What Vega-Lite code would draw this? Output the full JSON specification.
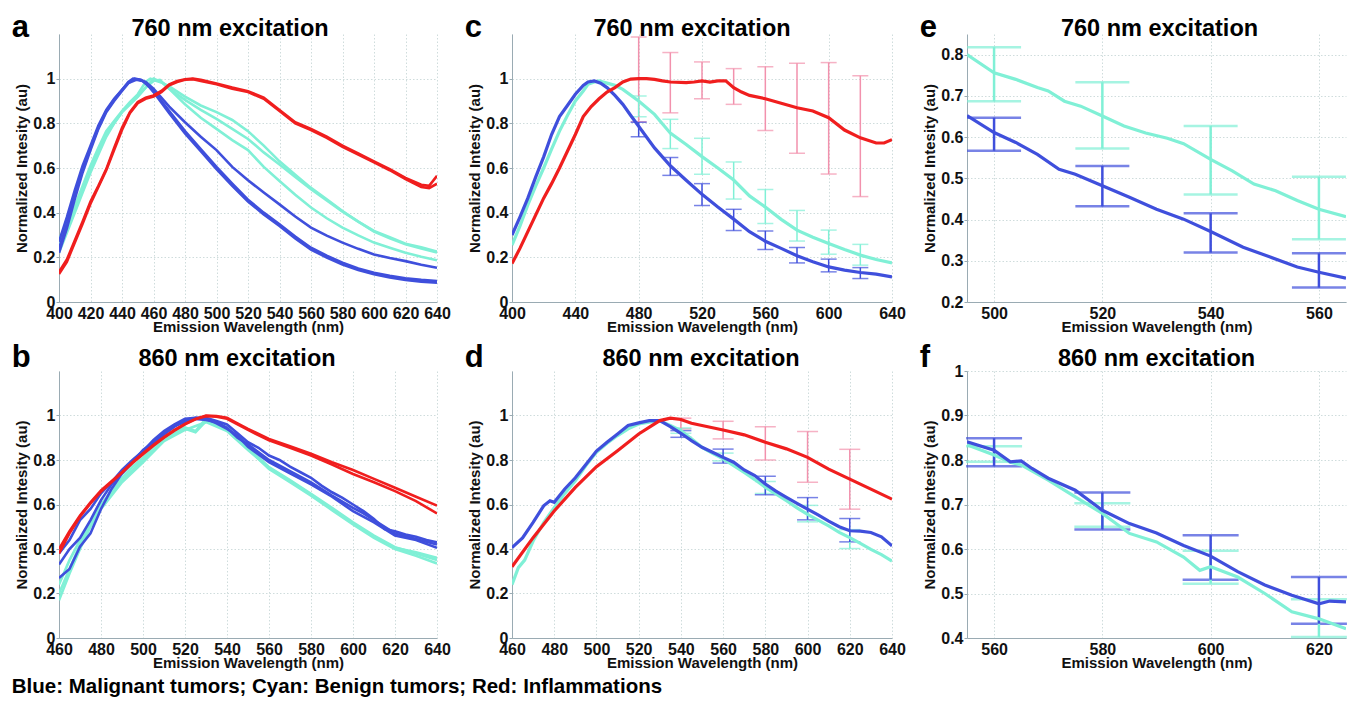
{
"$schema": "https://vega.github.io/schema/vega-lite/v6.json",
"padding": {"left": 11, "top": 12, "right": 0, "bottom": 0},
"config": {
 "view": {"stroke": null},
 "axis": {"labelFont": "Liberation Sans", "labelFontSize": 16, "labelFontWeight": "bold", "labelColor": "#111", "titleFont": "Liberation Sans", "titleFontSize": 15, "titleFontWeight": "bold", "titleColor": "#111", "domainColor": "#9aabb3", "grid": true, "gridColor": "#cfdcdc", "gridDash": [1.5, 2], "ticks": false, "labelFlush": false, "labelOverlap": false, "labelPadding": 3},
 "axisX": {"titlePadding": -2},
 "axisY": {"titlePadding": 3, "labelPadding": 1, "ticks": true, "tickSize": 3, "tickColor": "#9aabb3"},
 "title": {"font": "Liberation Sans", "fontSize": 23.5, "fontWeight": "bold", "color": "#000", "baseline": "alphabetic"}
},
"title": {"text": "Blue: Malignant tumors; Cyan: Benign tumors; Red: Inflammations", "orient": "bottom", "anchor": "start", "fontSize": 20.5, "baseline": "top", "offset": 7},
"columns": 3,
"spacing": {"row": 7, "column": 13},
"datasets": {
"a": [
{"s":"C1","g":"Cyan","w":400,"v":0.28},{"s":"C1","g":"Cyan","w":405,"v":0.35},{"s":"C1","g":"Cyan","w":410,"v":0.43},{"s":"C1","g":"Cyan","w":415,"v":0.52},{"s":"C1","g":"Cyan","w":420,"v":0.61},{"s":"C1","g":"Cyan","w":425,"v":0.69},{"s":"C1","g":"Cyan","w":430,"v":0.765},{"s":"C1","g":"Cyan","w":435,"v":0.81},{"s":"C1","g":"Cyan","w":440,"v":0.855},{"s":"C1","g":"Cyan","w":445,"v":0.895},{"s":"C1","g":"Cyan","w":450,"v":0.93},{"s":"C1","g":"Cyan","w":455,"v":0.985},{"s":"C1","g":"Cyan","w":458,"v":1.0},{"s":"C1","g":"Cyan","w":462,"v":0.99},{"s":"C1","g":"Cyan","w":466,"v":0.98},{"s":"C1","g":"Cyan","w":470,"v":0.965},{"s":"C1","g":"Cyan","w":480,"v":0.92},{"s":"C1","g":"Cyan","w":490,"v":0.88},{"s":"C1","g":"Cyan","w":500,"v":0.85},{"s":"C1","g":"Cyan","w":510,"v":0.815},{"s":"C1","g":"Cyan","w":520,"v":0.765},{"s":"C1","g":"Cyan","w":530,"v":0.7},{"s":"C1","g":"Cyan","w":540,"v":0.63},{"s":"C1","g":"Cyan","w":550,"v":0.57},{"s":"C1","g":"Cyan","w":560,"v":0.511},{"s":"C1","g":"Cyan","w":570,"v":0.46},{"s":"C1","g":"Cyan","w":580,"v":0.407},{"s":"C1","g":"Cyan","w":590,"v":0.36},{"s":"C1","g":"Cyan","w":600,"v":0.318},{"s":"C1","g":"Cyan","w":610,"v":0.29},{"s":"C1","g":"Cyan","w":620,"v":0.261},{"s":"C1","g":"Cyan","w":630,"v":0.245},{"s":"C1","g":"Cyan","w":640,"v":0.226},
{"s":"C2","g":"Cyan","w":400,"v":0.25},{"s":"C2","g":"Cyan","w":405,"v":0.33},{"s":"C2","g":"Cyan","w":410,"v":0.42},{"s":"C2","g":"Cyan","w":415,"v":0.505},{"s":"C2","g":"Cyan","w":420,"v":0.59},{"s":"C2","g":"Cyan","w":425,"v":0.67},{"s":"C2","g":"Cyan","w":430,"v":0.75},{"s":"C2","g":"Cyan","w":435,"v":0.8},{"s":"C2","g":"Cyan","w":440,"v":0.85},{"s":"C2","g":"Cyan","w":445,"v":0.885},{"s":"C2","g":"Cyan","w":450,"v":0.92},{"s":"C2","g":"Cyan","w":455,"v":0.96},{"s":"C2","g":"Cyan","w":460,"v":1.0},{"s":"C2","g":"Cyan","w":465,"v":0.985},{"s":"C2","g":"Cyan","w":470,"v":0.955},{"s":"C2","g":"Cyan","w":480,"v":0.905},{"s":"C2","g":"Cyan","w":490,"v":0.86},{"s":"C2","g":"Cyan","w":500,"v":0.82},{"s":"C2","g":"Cyan","w":510,"v":0.775},{"s":"C2","g":"Cyan","w":520,"v":0.73},{"s":"C2","g":"Cyan","w":530,"v":0.67},{"s":"C2","g":"Cyan","w":540,"v":0.616},{"s":"C2","g":"Cyan","w":550,"v":0.56},{"s":"C2","g":"Cyan","w":560,"v":0.505},{"s":"C2","g":"Cyan","w":570,"v":0.455},{"s":"C2","g":"Cyan","w":580,"v":0.405},{"s":"C2","g":"Cyan","w":590,"v":0.36},{"s":"C2","g":"Cyan","w":600,"v":0.315},{"s":"C2","g":"Cyan","w":610,"v":0.285},{"s":"C2","g":"Cyan","w":620,"v":0.258},{"s":"C2","g":"Cyan","w":630,"v":0.24},{"s":"C2","g":"Cyan","w":640,"v":0.222},
{"s":"C3","g":"Cyan","w":400,"v":0.22},{"s":"C3","g":"Cyan","w":405,"v":0.31},{"s":"C3","g":"Cyan","w":410,"v":0.4},{"s":"C3","g":"Cyan","w":415,"v":0.49},{"s":"C3","g":"Cyan","w":420,"v":0.58},{"s":"C3","g":"Cyan","w":425,"v":0.66},{"s":"C3","g":"Cyan","w":430,"v":0.74},{"s":"C3","g":"Cyan","w":435,"v":0.8},{"s":"C3","g":"Cyan","w":440,"v":0.85},{"s":"C3","g":"Cyan","w":445,"v":0.885},{"s":"C3","g":"Cyan","w":450,"v":0.92},{"s":"C3","g":"Cyan","w":455,"v":0.96},{"s":"C3","g":"Cyan","w":460,"v":0.99},{"s":"C3","g":"Cyan","w":464,"v":0.995},{"s":"C3","g":"Cyan","w":470,"v":0.955},{"s":"C3","g":"Cyan","w":480,"v":0.885},{"s":"C3","g":"Cyan","w":490,"v":0.825},{"s":"C3","g":"Cyan","w":500,"v":0.775},{"s":"C3","g":"Cyan","w":510,"v":0.725},{"s":"C3","g":"Cyan","w":520,"v":0.68},{"s":"C3","g":"Cyan","w":530,"v":0.605},{"s":"C3","g":"Cyan","w":540,"v":0.542},{"s":"C3","g":"Cyan","w":550,"v":0.48},{"s":"C3","g":"Cyan","w":560,"v":0.423},{"s":"C3","g":"Cyan","w":570,"v":0.375},{"s":"C3","g":"Cyan","w":580,"v":0.333},{"s":"C3","g":"Cyan","w":590,"v":0.298},{"s":"C3","g":"Cyan","w":600,"v":0.266},{"s":"C3","g":"Cyan","w":610,"v":0.243},{"s":"C3","g":"Cyan","w":620,"v":0.221},{"s":"C3","g":"Cyan","w":630,"v":0.203},{"s":"C3","g":"Cyan","w":640,"v":0.187},
{"s":"B1","g":"Blue","w":400,"v":0.27},{"s":"B1","g":"Blue","w":405,"v":0.38},{"s":"B1","g":"Blue","w":410,"v":0.5},{"s":"B1","g":"Blue","w":415,"v":0.61},{"s":"B1","g":"Blue","w":420,"v":0.7},{"s":"B1","g":"Blue","w":425,"v":0.79},{"s":"B1","g":"Blue","w":430,"v":0.86},{"s":"B1","g":"Blue","w":435,"v":0.91},{"s":"B1","g":"Blue","w":440,"v":0.95},{"s":"B1","g":"Blue","w":444,"v":0.985},{"s":"B1","g":"Blue","w":447,"v":1.0},{"s":"B1","g":"Blue","w":451,"v":0.995},{"s":"B1","g":"Blue","w":455,"v":0.985},{"s":"B1","g":"Blue","w":460,"v":0.955},{"s":"B1","g":"Blue","w":470,"v":0.875},{"s":"B1","g":"Blue","w":480,"v":0.805},{"s":"B1","g":"Blue","w":490,"v":0.74},{"s":"B1","g":"Blue","w":500,"v":0.68},{"s":"B1","g":"Blue","w":510,"v":0.605},{"s":"B1","g":"Blue","w":520,"v":0.545},{"s":"B1","g":"Blue","w":530,"v":0.49},{"s":"B1","g":"Blue","w":540,"v":0.437},{"s":"B1","g":"Blue","w":550,"v":0.383},{"s":"B1","g":"Blue","w":560,"v":0.333},{"s":"B1","g":"Blue","w":570,"v":0.297},{"s":"B1","g":"Blue","w":580,"v":0.266},{"s":"B1","g":"Blue","w":590,"v":0.238},{"s":"B1","g":"Blue","w":600,"v":0.213},{"s":"B1","g":"Blue","w":610,"v":0.197},{"s":"B1","g":"Blue","w":620,"v":0.183},{"s":"B1","g":"Blue","w":630,"v":0.167},{"s":"B1","g":"Blue","w":640,"v":0.153},
{"s":"B2","g":"Blue","w":400,"v":0.24},{"s":"B2","g":"Blue","w":405,"v":0.35},{"s":"B2","g":"Blue","w":410,"v":0.48},{"s":"B2","g":"Blue","w":415,"v":0.59},{"s":"B2","g":"Blue","w":420,"v":0.69},{"s":"B2","g":"Blue","w":425,"v":0.78},{"s":"B2","g":"Blue","w":430,"v":0.855},{"s":"B2","g":"Blue","w":435,"v":0.905},{"s":"B2","g":"Blue","w":440,"v":0.95},{"s":"B2","g":"Blue","w":444,"v":0.98},{"s":"B2","g":"Blue","w":448,"v":1.0},{"s":"B2","g":"Blue","w":452,"v":0.995},{"s":"B2","g":"Blue","w":456,"v":0.975},{"s":"B2","g":"Blue","w":460,"v":0.945},{"s":"B2","g":"Blue","w":470,"v":0.855},{"s":"B2","g":"Blue","w":480,"v":0.765},{"s":"B2","g":"Blue","w":490,"v":0.685},{"s":"B2","g":"Blue","w":500,"v":0.605},{"s":"B2","g":"Blue","w":510,"v":0.53},{"s":"B2","g":"Blue","w":520,"v":0.458},{"s":"B2","g":"Blue","w":530,"v":0.4},{"s":"B2","g":"Blue","w":540,"v":0.348},{"s":"B2","g":"Blue","w":550,"v":0.293},{"s":"B2","g":"Blue","w":560,"v":0.243},{"s":"B2","g":"Blue","w":570,"v":0.207},{"s":"B2","g":"Blue","w":580,"v":0.176},{"s":"B2","g":"Blue","w":590,"v":0.15},{"s":"B2","g":"Blue","w":600,"v":0.131},{"s":"B2","g":"Blue","w":610,"v":0.117},{"s":"B2","g":"Blue","w":620,"v":0.106},{"s":"B2","g":"Blue","w":630,"v":0.099},{"s":"B2","g":"Blue","w":640,"v":0.094},
{"s":"B3","g":"Blue","w":400,"v":0.22},{"s":"B3","g":"Blue","w":405,"v":0.33},{"s":"B3","g":"Blue","w":410,"v":0.46},{"s":"B3","g":"Blue","w":415,"v":0.58},{"s":"B3","g":"Blue","w":420,"v":0.68},{"s":"B3","g":"Blue","w":425,"v":0.775},{"s":"B3","g":"Blue","w":430,"v":0.85},{"s":"B3","g":"Blue","w":435,"v":0.9},{"s":"B3","g":"Blue","w":440,"v":0.945},{"s":"B3","g":"Blue","w":444,"v":0.98},{"s":"B3","g":"Blue","w":449,"v":0.995},{"s":"B3","g":"Blue","w":453,"v":0.99},{"s":"B3","g":"Blue","w":457,"v":0.965},{"s":"B3","g":"Blue","w":460,"v":0.94},{"s":"B3","g":"Blue","w":470,"v":0.845},{"s":"B3","g":"Blue","w":480,"v":0.755},{"s":"B3","g":"Blue","w":490,"v":0.675},{"s":"B3","g":"Blue","w":500,"v":0.595},{"s":"B3","g":"Blue","w":510,"v":0.52},{"s":"B3","g":"Blue","w":520,"v":0.45},{"s":"B3","g":"Blue","w":530,"v":0.392},{"s":"B3","g":"Blue","w":540,"v":0.34},{"s":"B3","g":"Blue","w":550,"v":0.285},{"s":"B3","g":"Blue","w":560,"v":0.235},{"s":"B3","g":"Blue","w":570,"v":0.199},{"s":"B3","g":"Blue","w":580,"v":0.168},{"s":"B3","g":"Blue","w":590,"v":0.143},{"s":"B3","g":"Blue","w":600,"v":0.124},{"s":"B3","g":"Blue","w":610,"v":0.11},{"s":"B3","g":"Blue","w":620,"v":0.099},{"s":"B3","g":"Blue","w":630,"v":0.091},{"s":"B3","g":"Blue","w":640,"v":0.086},
{"s":"R1","g":"Red","w":400,"v":0.135},{"s":"R1","g":"Red","w":405,"v":0.19},{"s":"R1","g":"Red","w":410,"v":0.275},{"s":"R1","g":"Red","w":415,"v":0.36},{"s":"R1","g":"Red","w":420,"v":0.45},{"s":"R1","g":"Red","w":425,"v":0.52},{"s":"R1","g":"Red","w":430,"v":0.595},{"s":"R1","g":"Red","w":435,"v":0.69},{"s":"R1","g":"Red","w":440,"v":0.78},{"s":"R1","g":"Red","w":445,"v":0.85},{"s":"R1","g":"Red","w":450,"v":0.895},{"s":"R1","g":"Red","w":455,"v":0.915},{"s":"R1","g":"Red","w":460,"v":0.925},{"s":"R1","g":"Red","w":465,"v":0.945},{"s":"R1","g":"Red","w":470,"v":0.975},{"s":"R1","g":"Red","w":475,"v":0.99},{"s":"R1","g":"Red","w":480,"v":0.997},{"s":"R1","g":"Red","w":485,"v":1.0},{"s":"R1","g":"Red","w":490,"v":0.995},{"s":"R1","g":"Red","w":500,"v":0.978},{"s":"R1","g":"Red","w":510,"v":0.96},{"s":"R1","g":"Red","w":520,"v":0.944},{"s":"R1","g":"Red","w":530,"v":0.915},{"s":"R1","g":"Red","w":540,"v":0.86},{"s":"R1","g":"Red","w":550,"v":0.805},{"s":"R1","g":"Red","w":560,"v":0.775},{"s":"R1","g":"Red","w":570,"v":0.74},{"s":"R1","g":"Red","w":580,"v":0.7},{"s":"R1","g":"Red","w":590,"v":0.665},{"s":"R1","g":"Red","w":600,"v":0.63},{"s":"R1","g":"Red","w":610,"v":0.595},{"s":"R1","g":"Red","w":620,"v":0.556},{"s":"R1","g":"Red","w":630,"v":0.525},{"s":"R1","g":"Red","w":635,"v":0.52},{"s":"R1","g":"Red","w":640,"v":0.565},
{"s":"R2","g":"Red","w":400,"v":0.125},{"s":"R2","g":"Red","w":405,"v":0.18},{"s":"R2","g":"Red","w":410,"v":0.265},{"s":"R2","g":"Red","w":415,"v":0.35},{"s":"R2","g":"Red","w":420,"v":0.44},{"s":"R2","g":"Red","w":425,"v":0.515},{"s":"R2","g":"Red","w":430,"v":0.59},{"s":"R2","g":"Red","w":435,"v":0.68},{"s":"R2","g":"Red","w":440,"v":0.77},{"s":"R2","g":"Red","w":445,"v":0.845},{"s":"R2","g":"Red","w":450,"v":0.89},{"s":"R2","g":"Red","w":455,"v":0.91},{"s":"R2","g":"Red","w":460,"v":0.92},{"s":"R2","g":"Red","w":465,"v":0.94},{"s":"R2","g":"Red","w":470,"v":0.97},{"s":"R2","g":"Red","w":475,"v":0.985},{"s":"R2","g":"Red","w":480,"v":0.995},{"s":"R2","g":"Red","w":485,"v":0.998},{"s":"R2","g":"Red","w":490,"v":0.99},{"s":"R2","g":"Red","w":500,"v":0.975},{"s":"R2","g":"Red","w":510,"v":0.955},{"s":"R2","g":"Red","w":520,"v":0.94},{"s":"R2","g":"Red","w":530,"v":0.91},{"s":"R2","g":"Red","w":540,"v":0.855},{"s":"R2","g":"Red","w":550,"v":0.8},{"s":"R2","g":"Red","w":560,"v":0.77},{"s":"R2","g":"Red","w":570,"v":0.735},{"s":"R2","g":"Red","w":580,"v":0.695},{"s":"R2","g":"Red","w":590,"v":0.66},{"s":"R2","g":"Red","w":600,"v":0.625},{"s":"R2","g":"Red","w":610,"v":0.59},{"s":"R2","g":"Red","w":620,"v":0.55},{"s":"R2","g":"Red","w":630,"v":0.515},{"s":"R2","g":"Red","w":635,"v":0.51},{"s":"R2","g":"Red","w":640,"v":0.53}
],
"b": [
{"s":"C1","g":"Cyan","w":460,"v":0.24},{"s":"C1","g":"Cyan","w":465,"v":0.35},{"s":"C1","g":"Cyan","w":470,"v":0.44},{"s":"C1","g":"Cyan","w":475,"v":0.52},{"s":"C1","g":"Cyan","w":480,"v":0.6},{"s":"C1","g":"Cyan","w":485,"v":0.66},{"s":"C1","g":"Cyan","w":490,"v":0.72},{"s":"C1","g":"Cyan","w":495,"v":0.77},{"s":"C1","g":"Cyan","w":500,"v":0.81},{"s":"C1","g":"Cyan","w":505,"v":0.86},{"s":"C1","g":"Cyan","w":510,"v":0.9},{"s":"C1","g":"Cyan","w":515,"v":0.925},{"s":"C1","g":"Cyan","w":520,"v":0.946},{"s":"C1","g":"Cyan","w":525,"v":0.93},{"s":"C1","g":"Cyan","w":530,"v":0.985},{"s":"C1","g":"Cyan","w":535,"v":0.97},{"s":"C1","g":"Cyan","w":540,"v":0.946},{"s":"C1","g":"Cyan","w":545,"v":0.9},{"s":"C1","g":"Cyan","w":550,"v":0.857},{"s":"C1","g":"Cyan","w":560,"v":0.768},{"s":"C1","g":"Cyan","w":570,"v":0.71},{"s":"C1","g":"Cyan","w":580,"v":0.648},{"s":"C1","g":"Cyan","w":590,"v":0.585},{"s":"C1","g":"Cyan","w":600,"v":0.52},{"s":"C1","g":"Cyan","w":610,"v":0.46},{"s":"C1","g":"Cyan","w":620,"v":0.408},{"s":"C1","g":"Cyan","w":630,"v":0.38},{"s":"C1","g":"Cyan","w":640,"v":0.35},
{"s":"C2","g":"Cyan","w":460,"v":0.2},{"s":"C2","g":"Cyan","w":465,"v":0.31},{"s":"C2","g":"Cyan","w":470,"v":0.42},{"s":"C2","g":"Cyan","w":475,"v":0.51},{"s":"C2","g":"Cyan","w":480,"v":0.59},{"s":"C2","g":"Cyan","w":490,"v":0.71},{"s":"C2","g":"Cyan","w":500,"v":0.8},{"s":"C2","g":"Cyan","w":510,"v":0.89},{"s":"C2","g":"Cyan","w":520,"v":0.94},{"s":"C2","g":"Cyan","w":525,"v":0.925},{"s":"C2","g":"Cyan","w":530,"v":0.975},{"s":"C2","g":"Cyan","w":540,"v":0.94},{"s":"C2","g":"Cyan","w":550,"v":0.85},{"s":"C2","g":"Cyan","w":560,"v":0.76},{"s":"C2","g":"Cyan","w":570,"v":0.7},{"s":"C2","g":"Cyan","w":580,"v":0.64},{"s":"C2","g":"Cyan","w":590,"v":0.575},{"s":"C2","g":"Cyan","w":600,"v":0.51},{"s":"C2","g":"Cyan","w":610,"v":0.45},{"s":"C2","g":"Cyan","w":620,"v":0.4},{"s":"C2","g":"Cyan","w":630,"v":0.37},{"s":"C2","g":"Cyan","w":640,"v":0.335},
{"s":"C3","g":"Cyan","w":460,"v":0.17},{"s":"C3","g":"Cyan","w":465,"v":0.29},{"s":"C3","g":"Cyan","w":470,"v":0.4},{"s":"C3","g":"Cyan","w":475,"v":0.5},{"s":"C3","g":"Cyan","w":480,"v":0.58},{"s":"C3","g":"Cyan","w":490,"v":0.7},{"s":"C3","g":"Cyan","w":500,"v":0.79},{"s":"C3","g":"Cyan","w":510,"v":0.885},{"s":"C3","g":"Cyan","w":520,"v":0.935},{"s":"C3","g":"Cyan","w":530,"v":0.97},{"s":"C3","g":"Cyan","w":540,"v":0.93},{"s":"C3","g":"Cyan","w":550,"v":0.845},{"s":"C3","g":"Cyan","w":560,"v":0.765},{"s":"C3","g":"Cyan","w":570,"v":0.705},{"s":"C3","g":"Cyan","w":580,"v":0.645},{"s":"C3","g":"Cyan","w":590,"v":0.58},{"s":"C3","g":"Cyan","w":600,"v":0.515},{"s":"C3","g":"Cyan","w":610,"v":0.455},{"s":"C3","g":"Cyan","w":620,"v":0.405},{"s":"C3","g":"Cyan","w":630,"v":0.385},{"s":"C3","g":"Cyan","w":640,"v":0.36},
{"s":"B1","g":"Blue","w":460,"v":0.38},{"s":"B1","g":"Blue","w":465,"v":0.44},{"s":"B1","g":"Blue","w":470,"v":0.53},{"s":"B1","g":"Blue","w":475,"v":0.58},{"s":"B1","g":"Blue","w":480,"v":0.65},{"s":"B1","g":"Blue","w":485,"v":0.7},{"s":"B1","g":"Blue","w":490,"v":0.755},{"s":"B1","g":"Blue","w":495,"v":0.8},{"s":"B1","g":"Blue","w":500,"v":0.84},{"s":"B1","g":"Blue","w":505,"v":0.89},{"s":"B1","g":"Blue","w":510,"v":0.93},{"s":"B1","g":"Blue","w":515,"v":0.96},{"s":"B1","g":"Blue","w":520,"v":0.985},{"s":"B1","g":"Blue","w":525,"v":0.99},{"s":"B1","g":"Blue","w":530,"v":0.99},{"s":"B1","g":"Blue","w":535,"v":0.975},{"s":"B1","g":"Blue","w":540,"v":0.96},{"s":"B1","g":"Blue","w":545,"v":0.92},{"s":"B1","g":"Blue","w":550,"v":0.88},{"s":"B1","g":"Blue","w":555,"v":0.855},{"s":"B1","g":"Blue","w":560,"v":0.82},{"s":"B1","g":"Blue","w":565,"v":0.8},{"s":"B1","g":"Blue","w":570,"v":0.77},{"s":"B1","g":"Blue","w":575,"v":0.745},{"s":"B1","g":"Blue","w":580,"v":0.72},{"s":"B1","g":"Blue","w":585,"v":0.685},{"s":"B1","g":"Blue","w":590,"v":0.655},{"s":"B1","g":"Blue","w":595,"v":0.63},{"s":"B1","g":"Blue","w":600,"v":0.6},{"s":"B1","g":"Blue","w":605,"v":0.57},{"s":"B1","g":"Blue","w":610,"v":0.535},{"s":"B1","g":"Blue","w":615,"v":0.49},{"s":"B1","g":"Blue","w":620,"v":0.48},{"s":"B1","g":"Blue","w":625,"v":0.465},{"s":"B1","g":"Blue","w":630,"v":0.455},{"s":"B1","g":"Blue","w":635,"v":0.44},{"s":"B1","g":"Blue","w":640,"v":0.43},
{"s":"B2","g":"Blue","w":460,"v":0.33},{"s":"B2","g":"Blue","w":465,"v":0.4},{"s":"B2","g":"Blue","w":470,"v":0.45},{"s":"B2","g":"Blue","w":475,"v":0.53},{"s":"B2","g":"Blue","w":480,"v":0.62},{"s":"B2","g":"Blue","w":485,"v":0.69},{"s":"B2","g":"Blue","w":490,"v":0.74},{"s":"B2","g":"Blue","w":495,"v":0.79},{"s":"B2","g":"Blue","w":500,"v":0.845},{"s":"B2","g":"Blue","w":505,"v":0.88},{"s":"B2","g":"Blue","w":510,"v":0.915},{"s":"B2","g":"Blue","w":515,"v":0.95},{"s":"B2","g":"Blue","w":520,"v":0.975},{"s":"B2","g":"Blue","w":525,"v":0.985},{"s":"B2","g":"Blue","w":530,"v":0.98},{"s":"B2","g":"Blue","w":535,"v":0.97},{"s":"B2","g":"Blue","w":540,"v":0.945},{"s":"B2","g":"Blue","w":545,"v":0.9},{"s":"B2","g":"Blue","w":550,"v":0.87},{"s":"B2","g":"Blue","w":560,"v":0.8},{"s":"B2","g":"Blue","w":570,"v":0.75},{"s":"B2","g":"Blue","w":580,"v":0.7},{"s":"B2","g":"Blue","w":590,"v":0.64},{"s":"B2","g":"Blue","w":600,"v":0.585},{"s":"B2","g":"Blue","w":605,"v":0.56},{"s":"B2","g":"Blue","w":610,"v":0.53},{"s":"B2","g":"Blue","w":620,"v":0.47},{"s":"B2","g":"Blue","w":630,"v":0.445},{"s":"B2","g":"Blue","w":640,"v":0.42},
{"s":"B3","g":"Blue","w":460,"v":0.27},{"s":"B3","g":"Blue","w":465,"v":0.31},{"s":"B3","g":"Blue","w":470,"v":0.41},{"s":"B3","g":"Blue","w":475,"v":0.47},{"s":"B3","g":"Blue","w":480,"v":0.58},{"s":"B3","g":"Blue","w":485,"v":0.67},{"s":"B3","g":"Blue","w":490,"v":0.74},{"s":"B3","g":"Blue","w":495,"v":0.79},{"s":"B3","g":"Blue","w":500,"v":0.83},{"s":"B3","g":"Blue","w":505,"v":0.875},{"s":"B3","g":"Blue","w":510,"v":0.92},{"s":"B3","g":"Blue","w":515,"v":0.955},{"s":"B3","g":"Blue","w":520,"v":0.97},{"s":"B3","g":"Blue","w":525,"v":0.99},{"s":"B3","g":"Blue","w":530,"v":0.985},{"s":"B3","g":"Blue","w":535,"v":0.965},{"s":"B3","g":"Blue","w":540,"v":0.94},{"s":"B3","g":"Blue","w":545,"v":0.91},{"s":"B3","g":"Blue","w":550,"v":0.86},{"s":"B3","g":"Blue","w":560,"v":0.79},{"s":"B3","g":"Blue","w":570,"v":0.74},{"s":"B3","g":"Blue","w":580,"v":0.69},{"s":"B3","g":"Blue","w":590,"v":0.635},{"s":"B3","g":"Blue","w":600,"v":0.57},{"s":"B3","g":"Blue","w":610,"v":0.52},{"s":"B3","g":"Blue","w":620,"v":0.46},{"s":"B3","g":"Blue","w":630,"v":0.44},{"s":"B3","g":"Blue","w":640,"v":0.405},
{"s":"R1","g":"Red","w":460,"v":0.4},{"s":"R1","g":"Red","w":465,"v":0.48},{"s":"R1","g":"Red","w":470,"v":0.55},{"s":"R1","g":"Red","w":475,"v":0.61},{"s":"R1","g":"Red","w":480,"v":0.663},{"s":"R1","g":"Red","w":485,"v":0.705},{"s":"R1","g":"Red","w":490,"v":0.745},{"s":"R1","g":"Red","w":495,"v":0.79},{"s":"R1","g":"Red","w":500,"v":0.83},{"s":"R1","g":"Red","w":505,"v":0.868},{"s":"R1","g":"Red","w":510,"v":0.903},{"s":"R1","g":"Red","w":515,"v":0.935},{"s":"R1","g":"Red","w":520,"v":0.962},{"s":"R1","g":"Red","w":525,"v":0.985},{"s":"R1","g":"Red","w":530,"v":1.0},{"s":"R1","g":"Red","w":535,"v":0.998},{"s":"R1","g":"Red","w":540,"v":0.99},{"s":"R1","g":"Red","w":545,"v":0.965},{"s":"R1","g":"Red","w":550,"v":0.94},{"s":"R1","g":"Red","w":560,"v":0.895},{"s":"R1","g":"Red","w":570,"v":0.862},{"s":"R1","g":"Red","w":580,"v":0.828},{"s":"R1","g":"Red","w":590,"v":0.79},{"s":"R1","g":"Red","w":600,"v":0.755},{"s":"R1","g":"Red","w":610,"v":0.715},{"s":"R1","g":"Red","w":620,"v":0.675},{"s":"R1","g":"Red","w":630,"v":0.635},{"s":"R1","g":"Red","w":640,"v":0.595},
{"s":"R2","g":"Red","w":460,"v":0.38},{"s":"R2","g":"Red","w":465,"v":0.47},{"s":"R2","g":"Red","w":470,"v":0.545},{"s":"R2","g":"Red","w":475,"v":0.605},{"s":"R2","g":"Red","w":480,"v":0.658},{"s":"R2","g":"Red","w":485,"v":0.7},{"s":"R2","g":"Red","w":490,"v":0.742},{"s":"R2","g":"Red","w":495,"v":0.786},{"s":"R2","g":"Red","w":500,"v":0.826},{"s":"R2","g":"Red","w":505,"v":0.864},{"s":"R2","g":"Red","w":510,"v":0.9},{"s":"R2","g":"Red","w":515,"v":0.932},{"s":"R2","g":"Red","w":520,"v":0.96},{"s":"R2","g":"Red","w":525,"v":0.983},{"s":"R2","g":"Red","w":530,"v":0.997},{"s":"R2","g":"Red","w":535,"v":0.995},{"s":"R2","g":"Red","w":540,"v":0.985},{"s":"R2","g":"Red","w":545,"v":0.96},{"s":"R2","g":"Red","w":550,"v":0.935},{"s":"R2","g":"Red","w":560,"v":0.888},{"s":"R2","g":"Red","w":570,"v":0.855},{"s":"R2","g":"Red","w":580,"v":0.82},{"s":"R2","g":"Red","w":590,"v":0.78},{"s":"R2","g":"Red","w":600,"v":0.737},{"s":"R2","g":"Red","w":610,"v":0.7},{"s":"R2","g":"Red","w":620,"v":0.66},{"s":"R2","g":"Red","w":630,"v":0.615},{"s":"R2","g":"Red","w":640,"v":0.56}
],
"c": [
{"g":"Cyan","w":400,"v":0.255},{"g":"Cyan","w":405,"v":0.34},{"g":"Cyan","w":410,"v":0.435},{"g":"Cyan","w":415,"v":0.52},{"g":"Cyan","w":420,"v":0.6},{"g":"Cyan","w":425,"v":0.685},{"g":"Cyan","w":430,"v":0.765},{"g":"Cyan","w":435,"v":0.835},{"g":"Cyan","w":440,"v":0.9},{"g":"Cyan","w":445,"v":0.945},{"g":"Cyan","w":448,"v":0.975},{"g":"Cyan","w":452,"v":0.985},{"g":"Cyan","w":455,"v":0.99},{"g":"Cyan","w":460,"v":0.98},{"g":"Cyan","w":465,"v":0.97},{"g":"Cyan","w":470,"v":0.952},{"g":"Cyan","w":480,"v":0.9},{"g":"Cyan","w":490,"v":0.84},{"g":"Cyan","w":500,"v":0.756},{"g":"Cyan","w":510,"v":0.705},{"g":"Cyan","w":520,"v":0.651},{"g":"Cyan","w":530,"v":0.6},{"g":"Cyan","w":540,"v":0.546},{"g":"Cyan","w":550,"v":0.475},{"g":"Cyan","w":560,"v":0.425},{"g":"Cyan","w":570,"v":0.37},{"g":"Cyan","w":580,"v":0.322},{"g":"Cyan","w":590,"v":0.29},{"g":"Cyan","w":600,"v":0.262},{"g":"Cyan","w":610,"v":0.235},{"g":"Cyan","w":620,"v":0.21},{"g":"Cyan","w":630,"v":0.19},{"g":"Cyan","w":640,"v":0.175},
{"g":"Blue","w":400,"v":0.3},{"g":"Blue","w":405,"v":0.38},{"g":"Blue","w":410,"v":0.465},{"g":"Blue","w":415,"v":0.56},{"g":"Blue","w":420,"v":0.65},{"g":"Blue","w":425,"v":0.75},{"g":"Blue","w":430,"v":0.83},{"g":"Blue","w":435,"v":0.88},{"g":"Blue","w":440,"v":0.93},{"g":"Blue","w":445,"v":0.97},{"g":"Blue","w":448,"v":0.985},{"g":"Blue","w":452,"v":0.99},{"g":"Blue","w":456,"v":0.98},{"g":"Blue","w":460,"v":0.96},{"g":"Blue","w":465,"v":0.925},{"g":"Blue","w":470,"v":0.885},{"g":"Blue","w":475,"v":0.835},{"g":"Blue","w":480,"v":0.787},{"g":"Blue","w":490,"v":0.69},{"g":"Blue","w":500,"v":0.61},{"g":"Blue","w":510,"v":0.545},{"g":"Blue","w":520,"v":0.482},{"g":"Blue","w":530,"v":0.425},{"g":"Blue","w":540,"v":0.371},{"g":"Blue","w":550,"v":0.315},{"g":"Blue","w":560,"v":0.272},{"g":"Blue","w":570,"v":0.24},{"g":"Blue","w":580,"v":0.207},{"g":"Blue","w":590,"v":0.18},{"g":"Blue","w":600,"v":0.157},{"g":"Blue","w":610,"v":0.143},{"g":"Blue","w":620,"v":0.132},{"g":"Blue","w":630,"v":0.125},{"g":"Blue","w":640,"v":0.112},
{"g":"Red","w":400,"v":0.172},{"g":"Red","w":405,"v":0.24},{"g":"Red","w":410,"v":0.315},{"g":"Red","w":415,"v":0.39},{"g":"Red","w":420,"v":0.465},{"g":"Red","w":425,"v":0.53},{"g":"Red","w":430,"v":0.6},{"g":"Red","w":435,"v":0.675},{"g":"Red","w":440,"v":0.75},{"g":"Red","w":445,"v":0.83},{"g":"Red","w":450,"v":0.875},{"g":"Red","w":455,"v":0.91},{"g":"Red","w":460,"v":0.94},{"g":"Red","w":465,"v":0.96},{"g":"Red","w":470,"v":0.985},{"g":"Red","w":475,"v":0.998},{"g":"Red","w":480,"v":1.0},{"g":"Red","w":485,"v":1.0},{"g":"Red","w":490,"v":0.997},{"g":"Red","w":495,"v":0.99},{"g":"Red","w":500,"v":0.985},{"g":"Red","w":510,"v":0.982},{"g":"Red","w":515,"v":0.985},{"g":"Red","w":520,"v":0.99},{"g":"Red","w":525,"v":0.985},{"g":"Red","w":530,"v":0.99},{"g":"Red","w":535,"v":0.99},{"g":"Red","w":540,"v":0.96},{"g":"Red","w":545,"v":0.94},{"g":"Red","w":550,"v":0.925},{"g":"Red","w":560,"v":0.91},{"g":"Red","w":570,"v":0.89},{"g":"Red","w":580,"v":0.87},{"g":"Red","w":590,"v":0.855},{"g":"Red","w":600,"v":0.825},{"g":"Red","w":610,"v":0.77},{"g":"Red","w":620,"v":0.735},{"g":"Red","w":630,"v":0.712},{"g":"Red","w":635,"v":0.712},{"g":"Red","w":640,"v":0.727}
],
"cE": [
{"g":"Pink","w":480,"lo":0.807,"hi":1.187},{"g":"Pink","w":500,"lo":0.847,"hi":1.117},{"g":"Pink","w":520,"lo":0.91,"hi":1.075},{"g":"Pink","w":540,"lo":0.885,"hi":1.045},{"g":"Pink","w":560,"lo":0.768,"hi":1.053},{"g":"Pink","w":580,"lo":0.666,"hi":1.069},{"g":"Pink","w":600,"lo":0.573,"hi":1.072},{"g":"Pink","w":620,"lo":0.472,"hi":1.013},
{"g":"Cyan","w":480,"lo":0.83,"hi":0.922},{"g":"Cyan","w":500,"lo":0.687,"hi":0.818},{"g":"Cyan","w":520,"lo":0.572,"hi":0.733},{"g":"Cyan","w":540,"lo":0.461,"hi":0.627},{"g":"Cyan","w":560,"lo":0.352,"hi":0.504},{"g":"Cyan","w":580,"lo":0.273,"hi":0.41},{"g":"Cyan","w":600,"lo":0.214,"hi":0.322},{"g":"Cyan","w":620,"lo":0.165,"hi":0.258},
{"g":"Blue","w":480,"lo":0.74,"hi":0.805},{"g":"Blue","w":500,"lo":0.567,"hi":0.647},{"g":"Blue","w":520,"lo":0.432,"hi":0.53},{"g":"Blue","w":540,"lo":0.32,"hi":0.415},{"g":"Blue","w":560,"lo":0.235,"hi":0.318},{"g":"Blue","w":580,"lo":0.175,"hi":0.244},{"g":"Blue","w":600,"lo":0.135,"hi":0.192},{"g":"Blue","w":620,"lo":0.105,"hi":0.154}
],
"d": [
{"g":"Cyan","w":460,"v":0.24},{"g":"Cyan","w":463,"v":0.316},{"g":"Cyan","w":466,"v":0.35},{"g":"Cyan","w":470,"v":0.436},{"g":"Cyan","w":475,"v":0.519},{"g":"Cyan","w":480,"v":0.586},{"g":"Cyan","w":485,"v":0.65},{"g":"Cyan","w":490,"v":0.707},{"g":"Cyan","w":495,"v":0.775},{"g":"Cyan","w":500,"v":0.835},{"g":"Cyan","w":505,"v":0.875},{"g":"Cyan","w":510,"v":0.91},{"g":"Cyan","w":515,"v":0.94},{"g":"Cyan","w":520,"v":0.962},{"g":"Cyan","w":525,"v":0.97},{"g":"Cyan","w":530,"v":0.977},{"g":"Cyan","w":535,"v":0.955},{"g":"Cyan","w":540,"v":0.932},{"g":"Cyan","w":545,"v":0.895},{"g":"Cyan","w":550,"v":0.857},{"g":"Cyan","w":555,"v":0.83},{"g":"Cyan","w":560,"v":0.805},{"g":"Cyan","w":565,"v":0.775},{"g":"Cyan","w":570,"v":0.744},{"g":"Cyan","w":575,"v":0.712},{"g":"Cyan","w":580,"v":0.677},{"g":"Cyan","w":585,"v":0.648},{"g":"Cyan","w":590,"v":0.617},{"g":"Cyan","w":595,"v":0.585},{"g":"Cyan","w":600,"v":0.556},{"g":"Cyan","w":605,"v":0.53},{"g":"Cyan","w":610,"v":0.504},{"g":"Cyan","w":615,"v":0.475},{"g":"Cyan","w":620,"v":0.451},{"g":"Cyan","w":625,"v":0.425},{"g":"Cyan","w":630,"v":0.398},{"g":"Cyan","w":635,"v":0.375},{"g":"Cyan","w":640,"v":0.346},
{"g":"Blue","w":460,"v":0.406},{"g":"Blue","w":465,"v":0.45},{"g":"Blue","w":470,"v":0.52},{"g":"Blue","w":475,"v":0.594},{"g":"Blue","w":478,"v":0.617},{"g":"Blue","w":480,"v":0.61},{"g":"Blue","w":485,"v":0.67},{"g":"Blue","w":490,"v":0.72},{"g":"Blue","w":495,"v":0.78},{"g":"Blue","w":500,"v":0.84},{"g":"Blue","w":505,"v":0.88},{"g":"Blue","w":510,"v":0.917},{"g":"Blue","w":515,"v":0.955},{"g":"Blue","w":520,"v":0.967},{"g":"Blue","w":525,"v":0.977},{"g":"Blue","w":530,"v":0.977},{"g":"Blue","w":535,"v":0.95},{"g":"Blue","w":540,"v":0.92},{"g":"Blue","w":545,"v":0.887},{"g":"Blue","w":550,"v":0.857},{"g":"Blue","w":555,"v":0.835},{"g":"Blue","w":560,"v":0.812},{"g":"Blue","w":565,"v":0.79},{"g":"Blue","w":570,"v":0.755},{"g":"Blue","w":575,"v":0.73},{"g":"Blue","w":580,"v":0.692},{"g":"Blue","w":585,"v":0.66},{"g":"Blue","w":590,"v":0.632},{"g":"Blue","w":595,"v":0.605},{"g":"Blue","w":600,"v":0.579},{"g":"Blue","w":605,"v":0.553},{"g":"Blue","w":610,"v":0.525},{"g":"Blue","w":615,"v":0.5},{"g":"Blue","w":620,"v":0.482},{"g":"Blue","w":625,"v":0.48},{"g":"Blue","w":630,"v":0.474},{"g":"Blue","w":635,"v":0.455},{"g":"Blue","w":640,"v":0.414},
{"g":"Red","w":460,"v":0.32},{"g":"Red","w":470,"v":0.451},{"g":"Red","w":480,"v":0.571},{"g":"Red","w":490,"v":0.677},{"g":"Red","w":500,"v":0.77},{"g":"Red","w":510,"v":0.842},{"g":"Red","w":520,"v":0.917},{"g":"Red","w":530,"v":0.977},{"g":"Red","w":535,"v":0.988},{"g":"Red","w":540,"v":0.982},{"g":"Red","w":545,"v":0.965},{"g":"Red","w":550,"v":0.955},{"g":"Red","w":560,"v":0.935},{"g":"Red","w":570,"v":0.913},{"g":"Red","w":580,"v":0.88},{"g":"Red","w":590,"v":0.85},{"g":"Red","w":600,"v":0.812},{"g":"Red","w":610,"v":0.759},{"g":"Red","w":620,"v":0.714},{"g":"Red","w":630,"v":0.669},{"g":"Red","w":640,"v":0.624}
],
"dE": [
{"g":"Pink","w":540,"lo":0.94,"hi":0.988},{"g":"Pink","w":560,"lo":0.895,"hi":0.974},{"g":"Pink","w":580,"lo":0.8,"hi":0.95},{"g":"Pink","w":600,"lo":0.7,"hi":0.928},{"g":"Pink","w":620,"lo":0.579,"hi":0.848},
{"g":"Cyan","w":540,"lo":0.92,"hi":0.944},{"g":"Cyan","w":560,"lo":0.796,"hi":0.831},{"g":"Cyan","w":580,"lo":0.65,"hi":0.703},{"g":"Cyan","w":600,"lo":0.522,"hi":0.596},{"g":"Cyan","w":620,"lo":0.402,"hi":0.487},
{"g":"Blue","w":540,"lo":0.902,"hi":0.932},{"g":"Blue","w":560,"lo":0.786,"hi":0.849},{"g":"Blue","w":580,"lo":0.644,"hi":0.727},{"g":"Blue","w":600,"lo":0.531,"hi":0.631},{"g":"Blue","w":620,"lo":0.432,"hi":0.537}
],
"e": [
{"g":"Cyan","w":495,"v":0.8},{"g":"Cyan","w":500,"v":0.756},{"g":"Cyan","w":504,"v":0.74},{"g":"Cyan","w":508,"v":0.72},{"g":"Cyan","w":510,"v":0.712},{"g":"Cyan","w":513,"v":0.687},{"g":"Cyan","w":516,"v":0.675},{"g":"Cyan","w":520,"v":0.651},{"g":"Cyan","w":524,"v":0.627},{"g":"Cyan","w":528,"v":0.61},{"g":"Cyan","w":532,"v":0.597},{"g":"Cyan","w":535,"v":0.584},{"g":"Cyan","w":540,"v":0.546},{"g":"Cyan","w":544,"v":0.518},{"g":"Cyan","w":548,"v":0.486},{"g":"Cyan","w":552,"v":0.47},{"g":"Cyan","w":556,"v":0.446},{"g":"Cyan","w":560,"v":0.425},{"g":"Cyan","w":565,"v":0.407},
{"g":"Blue","w":495,"v":0.652},{"g":"Blue","w":500,"v":0.611},{"g":"Blue","w":504,"v":0.587},{"g":"Blue","w":508,"v":0.558},{"g":"Blue","w":512,"v":0.522},{"g":"Blue","w":515,"v":0.51},{"g":"Blue","w":520,"v":0.482},{"g":"Blue","w":525,"v":0.454},{"g":"Blue","w":530,"v":0.425},{"g":"Blue","w":535,"v":0.401},{"g":"Blue","w":540,"v":0.371},{"g":"Blue","w":546,"v":0.333},{"g":"Blue","w":551,"v":0.309},{"g":"Blue","w":556,"v":0.285},{"g":"Blue","w":560,"v":0.272},{"g":"Blue","w":565,"v":0.258}
],
"eE": [
{"g":"Cyan","w":500,"lo":0.687,"hi":0.818},{"g":"Cyan","w":520,"lo":0.572,"hi":0.733},{"g":"Cyan","w":540,"lo":0.461,"hi":0.627},{"g":"Cyan","w":560,"lo":0.352,"hi":0.504},
{"g":"Blue","w":500,"lo":0.567,"hi":0.647},{"g":"Blue","w":520,"lo":0.432,"hi":0.53},{"g":"Blue","w":540,"lo":0.32,"hi":0.415},{"g":"Blue","w":560,"lo":0.235,"hi":0.318}
],
"f": [
{"g":"Cyan","w":555,"v":0.834},{"g":"Cyan","w":560,"v":0.811},{"g":"Cyan","w":563,"v":0.795},{"g":"Cyan","w":565,"v":0.789},{"g":"Cyan","w":570,"v":0.755},{"g":"Cyan","w":575,"v":0.717},{"g":"Cyan","w":580,"v":0.68},{"g":"Cyan","w":585,"v":0.635},{"g":"Cyan","w":590,"v":0.616},{"g":"Cyan","w":595,"v":0.582},{"g":"Cyan","w":598,"v":0.552},{"g":"Cyan","w":600,"v":0.56},{"g":"Cyan","w":605,"v":0.537},{"g":"Cyan","w":610,"v":0.5},{"g":"Cyan","w":615,"v":0.459},{"g":"Cyan","w":620,"v":0.443},{"g":"Cyan","w":625,"v":0.421},
{"g":"Blue","w":555,"v":0.841},{"g":"Blue","w":560,"v":0.822},{"g":"Blue","w":563,"v":0.796},{"g":"Blue","w":565,"v":0.798},{"g":"Blue","w":567,"v":0.781},{"g":"Blue","w":570,"v":0.759},{"g":"Blue","w":575,"v":0.732},{"g":"Blue","w":580,"v":0.687},{"g":"Blue","w":585,"v":0.657},{"g":"Blue","w":590,"v":0.636},{"g":"Blue","w":595,"v":0.608},{"g":"Blue","w":600,"v":0.584},{"g":"Blue","w":605,"v":0.549},{"g":"Blue","w":610,"v":0.519},{"g":"Blue","w":615,"v":0.496},{"g":"Blue","w":620,"v":0.477},{"g":"Blue","w":622,"v":0.483},{"g":"Blue","w":625,"v":0.481}
],
"fE": [
{"g":"Cyan","w":560,"lo":0.796,"hi":0.831},{"g":"Cyan","w":580,"lo":0.65,"hi":0.703},{"g":"Cyan","w":600,"lo":0.522,"hi":0.596},{"g":"Cyan","w":620,"lo":0.402,"hi":0.487},
{"g":"Blue","w":560,"lo":0.786,"hi":0.849},{"g":"Blue","w":580,"lo":0.644,"hi":0.727},{"g":"Blue","w":600,"lo":0.531,"hi":0.631},{"g":"Blue","w":620,"lo":0.432,"hi":0.537}
]
},
"concat": [
{"title": {"text": "a", "anchor": "start", "fontSize": 31, "offset": -27, "dx": -3},
 "vconcat": [{
  "width": 378, "height": 268,
  "title": {"text": "760 nm excitation", "offset": -6.5, "dx": -18},
  "data": {"name": "a"},
  "mark": {"type": "line", "strokeWidth": 2.6, "clip": true},
  "encoding": {
   "x": {"field": "w", "type": "quantitative", "title": "Emission Wavelength (nm)", "scale": {"domain": [400, 640], "nice": false}, "axis": {"values": [400,420,440,460,480,500,520,540,560,580,600,620,640], "format": "d"}},
   "y": {"field": "v", "type": "quantitative", "title": "Normalized Intesity (au)", "scale": {"domain": [0, 1.2], "nice": false}, "axis": {"values": [0,0.2,0.4,0.6,0.8,1], "format": "~g"}},
   "color": {"field": "g", "type": "nominal", "scale": {"domain": ["Blue","Cyan","Red","Pink"], "range": ["#3f4fdc","#80f0d6","#f01e1e","#f291ad"]}, "legend": null},
   "detail": {"field": "s"}
  }
 }]
},
{"title": {"text": "c", "anchor": "start", "fontSize": 31, "offset": -27, "dx": -3},
 "vconcat": [{
  "width": 380, "height": 268,
  "title": {"text": "760 nm excitation", "offset": -6.5, "dx": -10},
  "layer": [
   {"data": {"name": "cE"}, "mark": {"type": "errorbar", "ticks": true, "size": 16, "thickness": 1.5},
    "encoding": {
     "x": {"field": "w", "type": "quantitative", "title": "Emission Wavelength (nm)", "scale": {"domain": [400, 640], "nice": false}, "axis": {"values": [400,420,440,460,480,500,520,540,560,580,600,620,640], "format": "d"}},
     "y": {"field": "lo", "type": "quantitative", "title": "Normalized Intesity (au)", "scale": {"domain": [0, 1.2], "nice": false}, "axis": {"values": [0,0.2,0.4,0.6,0.8,1], "format": "~g"}},
     "y2": {"field": "hi"},
     "color": {"field": "g", "type": "nominal", "scale": {"domain": ["Blue","Cyan","Red","Pink"], "range": ["#3f4fdc","#80f0d6","#f01e1e","#f291ad"]}, "legend": null}
    }},
   {"data": {"name": "c"}, "mark": {"type": "line", "strokeWidth": 3.2, "clip": true},
    "encoding": {
     "x": {"field": "w", "type": "quantitative", "title": "Emission Wavelength (nm)"},
     "y": {"field": "v", "type": "quantitative", "title": "Normalized Intesity (au)"},
     "color": {"field": "g", "type": "nominal"}
    }}
  ]
 }]
},
{"title": {"text": "e", "anchor": "start", "fontSize": 31, "offset": -27, "dx": -3},
 "vconcat": [{
  "width": 379, "height": 268,
  "title": {"text": "760 nm excitation", "offset": -6.5, "dx": 3},
  "layer": [
   {"data": {"name": "eE"}, "mark": {"type": "errorbar", "ticks": true, "size": 54, "thickness": 2.5},
    "encoding": {
     "x": {"field": "w", "type": "quantitative", "title": "Emission Wavelength (nm)", "scale": {"domain": [495, 565], "nice": false}, "axis": {"values": [500,520,540,560], "format": "d"}},
     "y": {"field": "lo", "type": "quantitative", "title": "Normalized Intesity (au)", "scale": {"domain": [0.2, 0.85], "nice": false}, "axis": {"values": [0.2,0.3,0.4,0.5,0.6,0.7,0.8], "format": "~g"}},
     "y2": {"field": "hi"},
     "color": {"field": "g", "type": "nominal", "scale": {"domain": ["Blue","Cyan","Red","Pink"], "range": ["#3f4fdc","#80f0d6","#f01e1e","#f291ad"]}, "legend": null}
    }},
   {"data": {"name": "e"}, "mark": {"type": "line", "strokeWidth": 3.2, "clip": true},
    "encoding": {
     "x": {"field": "w", "type": "quantitative", "title": "Emission Wavelength (nm)"},
     "y": {"field": "v", "type": "quantitative", "title": "Normalized Intesity (au)"},
     "color": {"field": "g", "type": "nominal"}
    }}
  ]
 }]
},
{"title": {"text": "b", "anchor": "start", "fontSize": 31, "offset": -27, "dx": -3},
 "vconcat": [{
  "width": 378, "height": 267,
  "title": {"text": "860 nm excitation", "offset": 1, "dx": -11},
  "data": {"name": "b"},
  "mark": {"type": "line", "strokeWidth": 2.6, "clip": true},
  "encoding": {
   "x": {"field": "w", "type": "quantitative", "title": "Emission Wavelength (nm)", "scale": {"domain": [460, 640], "nice": false}, "axis": {"values": [460,480,500,520,540,560,580,600,620,640], "format": "d"}},
   "y": {"field": "v", "type": "quantitative", "title": "Normalized Intesity (au)", "scale": {"domain": [0, 1.2], "nice": false}, "axis": {"values": [0,0.2,0.4,0.6,0.8,1], "format": "~g"}},
   "color": {"field": "g", "type": "nominal", "scale": {"domain": ["Blue","Cyan","Red","Pink"], "range": ["#3f4fdc","#80f0d6","#f01e1e","#f291ad"]}, "legend": null},
   "detail": {"field": "s"}
  }
 }]
},
{"title": {"text": "d", "anchor": "start", "fontSize": 31, "offset": -27, "dx": -3},
 "vconcat": [{
  "width": 380, "height": 267,
  "title": {"text": "860 nm excitation", "offset": 1, "dx": -1},
  "layer": [
   {"data": {"name": "dE"}, "mark": {"type": "errorbar", "ticks": true, "size": 21, "thickness": 1.5},
    "encoding": {
     "x": {"field": "w", "type": "quantitative", "title": "Emission Wavelength (nm)", "scale": {"domain": [460, 640], "nice": false}, "axis": {"values": [460,480,500,520,540,560,580,600,620,640], "format": "d"}},
     "y": {"field": "lo", "type": "quantitative", "title": "Normalized Intesity (au)", "scale": {"domain": [0, 1.2], "nice": false}, "axis": {"values": [0,0.2,0.4,0.6,0.8,1], "format": "~g"}},
     "y2": {"field": "hi"},
     "color": {"field": "g", "type": "nominal", "scale": {"domain": ["Blue","Cyan","Red","Pink"], "range": ["#3f4fdc","#80f0d6","#f01e1e","#f291ad"]}, "legend": null}
    }},
   {"data": {"name": "d"}, "mark": {"type": "line", "strokeWidth": 3.2, "clip": true},
    "encoding": {
     "x": {"field": "w", "type": "quantitative", "title": "Emission Wavelength (nm)"},
     "y": {"field": "v", "type": "quantitative", "title": "Normalized Intesity (au)"},
     "color": {"field": "g", "type": "nominal"}
    }}
  ]
 }]
},
{"title": {"text": "f", "anchor": "start", "fontSize": 31, "offset": -27, "dx": -3},
 "vconcat": [{
  "width": 379, "height": 267,
  "title": {"text": "860 nm excitation", "offset": -7, "dx": 0},
  "layer": [
   {"data": {"name": "fE"}, "mark": {"type": "errorbar", "ticks": true, "size": 56, "thickness": 2.5},
    "encoding": {
     "x": {"field": "w", "type": "quantitative", "title": "Emission Wavelength (nm)", "scale": {"domain": [555, 625], "nice": false}, "axis": {"values": [560,580,600,620], "format": "d"}},
     "y": {"field": "lo", "type": "quantitative", "title": "Normalized Intesity (au)", "scale": {"domain": [0.4, 1], "nice": false}, "axis": {"values": [0.4,0.5,0.6,0.7,0.8,0.9,1], "format": "~g"}},
     "y2": {"field": "hi"},
     "color": {"field": "g", "type": "nominal", "scale": {"domain": ["Blue","Cyan","Red","Pink"], "range": ["#3f4fdc","#80f0d6","#f01e1e","#f291ad"]}, "legend": null}
    }},
   {"data": {"name": "f"}, "mark": {"type": "line", "strokeWidth": 3.2, "clip": true},
    "encoding": {
     "x": {"field": "w", "type": "quantitative", "title": "Emission Wavelength (nm)"},
     "y": {"field": "v", "type": "quantitative", "title": "Normalized Intesity (au)"},
     "color": {"field": "g", "type": "nominal"}
    }}
  ]
 }]
}
]
}
